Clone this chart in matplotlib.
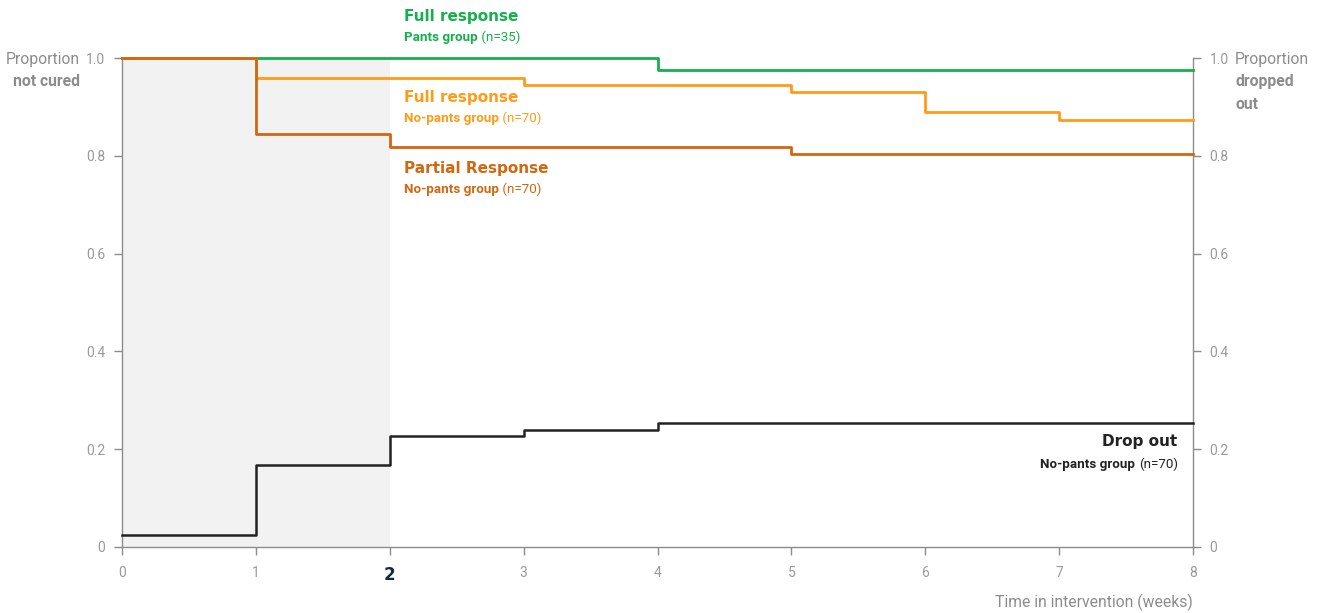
import matplotlib
matplotlib.use('Agg')
import matplotlib.pyplot as plt

# step data (value holds from week[i] until week[i+1])
weeks_full_pants = [0, 4, 8]
full_pants = [1.0, 0.975, 0.975]

weeks_full_nopants = [0, 1, 3, 5, 6, 7, 8]
full_nopants = [1.0, 0.959, 0.945, 0.930, 0.890, 0.873, 0.873]

weeks_partial = [0, 1, 2, 5, 8]
partial_nopants = [1.0, 0.845, 0.818, 0.804, 0.804]

weeks_drop = [0, 1, 2, 3, 4, 8]
drop_out = [0.0245, 0.168, 0.227, 0.239, 0.254, 0.254]

xticks = [0, 1, 2, 3, 4, 5, 6, 7, 8]
yticks = [0, 0.2, 0.4, 0.6, 0.8, 1.0]
ytick_labels = ['0', '0.2', '0.4', '0.6', '0.8', '1.0']

GREEN = '#14b04c'
ORANGE = '#ff9b17'
DARK_ORANGE = '#d2670f'
BLACK = '#222222'
GREY = '#8c8c8c'

plt.rcParams['font.family'] = ['Roboto', 'DejaVu Sans']
TITLE_FONT = ['DejaVu Sans']

fig = plt.figure(figsize=(13.18, 6.13), dpi=100)
ax = fig.add_axes([122 / 1318, 1 - 547 / 613, (1193 - 122) / 1318, (547 - 58) / 613])

ax.axvspan(0, 2, ymin=0, ymax=1, color='#f2f2f2', zorder=0, lw=0)

ax.step(weeks_full_pants, full_pants, where='post', color=GREEN, lw=2, clip_on=False, zorder=3)
ax.step(weeks_full_nopants, full_nopants, where='post', color=ORANGE, lw=2, clip_on=False, zorder=4)
ax.step(weeks_partial, partial_nopants, where='post', color=DARK_ORANGE, lw=2, clip_on=False, zorder=5)
ax.step(weeks_drop, drop_out, where='post', color=BLACK, lw=1.8, clip_on=False, zorder=5)

ax.set_xlim(0, 8)
ax.set_ylim(0, 1)
ax.set_xticks(xticks)
ax.set_yticks(yticks)
ax.set_yticklabels(ytick_labels)

ax.spines['top'].set_visible(False)
for s in ['left', 'right', 'bottom']:
    ax.spines[s].set_color(GREY)
    ax.spines[s].set_linewidth(1)
ax.tick_params(axis='both', colors=GREY, labelcolor='#9a9a9a', labelsize=10, length=6, width=1)
ax.tick_params(axis='x', pad=8)
ax.tick_params(axis='y', pad=6, labelright=True, right=True)

for lbl in ax.get_xticklabels():
    if lbl.get_text() == '2':
        lbl.set_fontweight('bold')
        lbl.set_color('#13293d')
        lbl.set_fontsize(12)
        lbl.set_fontfamily(TITLE_FONT)


def series_label(x, y, title, group, n, color, ha='left'):
    ax.text(x, y, title, color=color, fontsize=11, fontweight='bold',
            family=TITLE_FONT, ha=ha, va='baseline', clip_on=False)
    if ha == 'left':
        g = ax.text(x, y - 0.041, group, color=color, fontsize=9.6,
                    fontweight='bold', ha='left', va='baseline')
        ax.annotate(' ' + n, xy=(1, 0), xycoords=g, color=color, fontsize=9.6,
                    ha='left', va='bottom')
    else:
        t = ax.text(x, y - 0.045, n, color=color, fontsize=9.6,
                    ha='right', va='baseline')
        ax.annotate(group + ' ', xy=(0, 0), xycoords=t, color=color, fontsize=9.6,
                    fontweight='bold', ha='right', va='bottom')


series_label(2.105, 1.075, 'Full response', 'Pants group', '(n=35)', GREEN)
series_label(2.105, 0.910, 'Full response', 'No-pants group', '(n=70)', ORANGE)
series_label(2.105, 0.765, 'Partial Response', 'No-pants group', '(n=70)', DARK_ORANGE)
series_label(7.886, 0.207, 'Drop out', 'No-pants group', '(n=70)', BLACK, ha='right')

fig.text(80 / 1318, 1 - 64 / 613, 'Proportion', color=GREY, fontsize=11.3, ha='right', va='baseline')
fig.text(80 / 1318, 1 - 86 / 613, 'not cured', color=GREY, fontsize=11.3, fontweight='bold',
         ha='right', va='baseline')
fig.text(1235 / 1318, 1 - 64 / 613, 'Proportion', color=GREY, fontsize=11.3, ha='left', va='baseline')
fig.text(1235 / 1318, 1 - 86 / 613, 'dropped', color=GREY, fontsize=11.3, fontweight='bold',
         ha='left', va='baseline')
fig.text(1235 / 1318, 1 - 109 / 613, 'out', color=GREY, fontsize=11.3, fontweight='bold',
         ha='left', va='baseline')
fig.text(1193 / 1318, 1 - 607 / 613, 'Time in intervention (weeks)', color=GREY, fontsize=11.3,
         ha='right', va='baseline')

fig.savefig('out.png', dpi=100)
